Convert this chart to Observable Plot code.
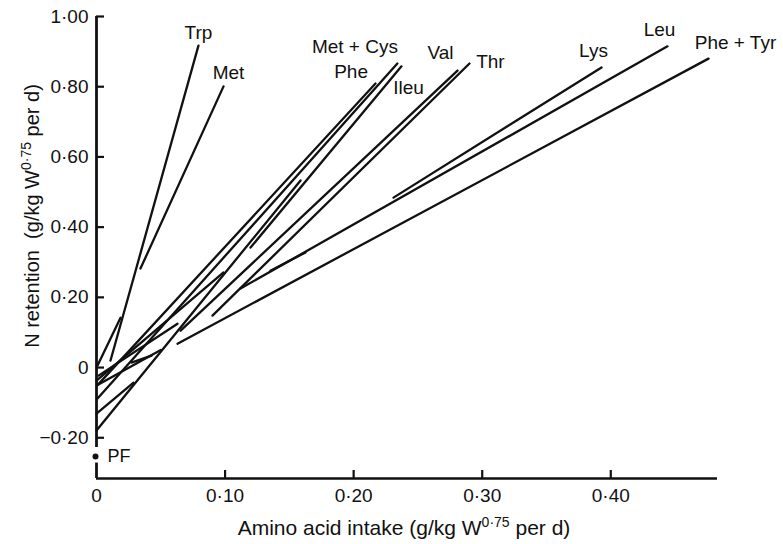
<!DOCTYPE html>
<html><head><meta charset="utf-8">
<script src="https://cdn.jsdelivr.net/npm/d3@7"></script>
<script src="https://cdn.jsdelivr.net/npm/@observablehq/plot@0.6"></script>
<style>body{margin:0;background:#fff} svg{display:block}</style>
</head><body><div id="chart"></div>
<script>
// ---- data ----
const segAcid = ["Trp","Trp","Met","Phe","Met + Cys","Ileu","Ileu","Val","Thr","Lys","Lys","Leu","Phe + Tyr",
                 "low","low","low","low","low"];
const segX1 = [0.0109,0.0008,0.0342,0.0008,0.0008,0.1198,0.0000,0.0654,0.0902,0.2310,0.1353,0.1120,0.0630,
               0.0000,0.0000,0.0016,0.0272,0.0008];
const segY1 = [0.020,0.006,0.282,-0.050,-0.088,0.342,-0.179,0.105,0.148,0.484,0.276,0.225,0.068,
               -0.131,-0.037,-0.023,0.014,-0.050];
const segX2 = [0.0793,0.0187,0.0988,0.2170,0.2340,0.2372,0.1587,0.2808,0.2901,0.3928,0.1626,0.4441,0.4760,
               0.0288,0.0988,0.0630,0.0428,0.0500];
const segY2 = [0.917,0.142,0.801,0.809,0.866,0.858,0.533,0.846,0.866,0.855,0.328,0.915,0.880,
               -0.043,0.271,0.125,0.034,0.050];

const labelText = ["Trp","Met","Met + Cys","Phe","Ileu","Val","Thr","Lys","Leu","Phe + Tyr"];
const labelX = [0.0793,0.1027,0.2010,0.1980,0.2427,0.2676,0.3064,0.3866,0.4379,0.4970];
const labelY = [0.954,0.840,0.912,0.843,0.798,0.895,0.872,0.903,0.963,0.926];

const xTicks = [0,0.1,0.2,0.3,0.4];
const yTicks = [-0.2,0,0.2,0.4,0.6,0.8,1.0];
const pfX = [0], pfY = [-0.253], pfText = ["PF"];

// ---- build tables ----
const segments = segAcid.map((a,i)=>({acid:a,x1:segX1[i],y1:segY1[i],x2:segX2[i],y2:segY2[i]}));
const labels = labelText.map((t,i)=>({text:t,x:labelX[i],y:labelY[i]}));
const pf = pfX.map((x,i)=>({x, y:pfY[i], text:pfText[i]}));
const fmt = d => d===0 ? "0" : (d<0?"\u22120\u00b7":"0\u00b7") + Math.round(Math.abs(d)*100).toString().padStart(2,"0");
const fmtY = d => d===1 ? "1\u00b700" : fmt(d);
const yDom = [-0.316, 1.0], xDom = [0, 0.483];
const yAxisSpans = [{a:yDom[0], b:-0.272}, {a:-0.228, b:yDom[1]}];

const plot = Plot.plot({
  width: 783, height: 544,
  marginLeft: 96, marginRight: 66, marginTop: 16, marginBottom: 66,
  x: {domain: xDom}, y: {domain: yDom},
  style: {fontFamily: "'Liberation Sans', Arial, sans-serif", fontSize: "19px", color: "#111", background: "#fff", overflow: "visible"},
  marks: [
    Plot.axisX({ticks: xTicks, tickSize: 0, tickPadding: 10, tickFormat: fmt, label: null, fontSize: 19}),
    Plot.axisY({ticks: yTicks, tickSize: 0, tickPadding: 8, tickFormat: fmtY, label: null, fontSize: 19}),
    Plot.ruleY([yDom[0]], {stroke: "#111", strokeWidth: 2.4}),
    Plot.ruleX(yAxisSpans, {x: 0, y1: "a", y2: "b", stroke: "#111", strokeWidth: 2.8}),
    Plot.tickX(xTicks.filter(d => d > 0), {x: d => d, insetTop: 454, stroke: "#111", strokeWidth: 2.2}),
    Plot.tickY(yTicks, {y: d => d, insetRight: 613, stroke: "#111", strokeWidth: 2.2}),
    Plot.link(segments, {x1: "x1", y1: "y1", x2: "x2", y2: "y2", stroke: "#111", strokeWidth: 2.3, strokeLinecap: "round"}),
    Plot.dot(pf, {x: "x", y: "y", r: 3, fill: "#111", dx: -1}),
    Plot.text(pf, {x: "x", y: "y", text: "text", dx: 11, textAnchor: "start", fontSize: 18, fill: "#111"}),
    Plot.text(labels, {x: "x", y: "y", text: "text", fontSize: 19, fill: "#111", textAnchor: "middle"})
  ]
});
document.getElementById("chart").append(plot);

// axis titles with superscripts
const svg = d3.select(plot);
const xt = svg.append("text").attr("x", 404).attr("y", 535).attr("text-anchor", "middle")
  .attr("font-size", 21).attr("fill", "#111").style("white-space", "pre");
xt.append("tspan").text("Amino acid intake (g/kg W");
xt.append("tspan").attr("dy", -8).attr("font-size", 14).text("0\u00b775");
xt.append("tspan").attr("dy", 8).text(" per d)");

const yt = svg.append("text").attr("transform", "translate(39,216) rotate(-90)").attr("text-anchor", "middle")
  .attr("font-size", 20).attr("fill", "#111").style("white-space", "pre");
yt.append("tspan").text("N retention  (g/kg W");
yt.append("tspan").attr("dy", -8).attr("font-size", 14).text("0\u00b775");
yt.append("tspan").attr("dy", 8).text(" per d)");
</script>
</body></html>
